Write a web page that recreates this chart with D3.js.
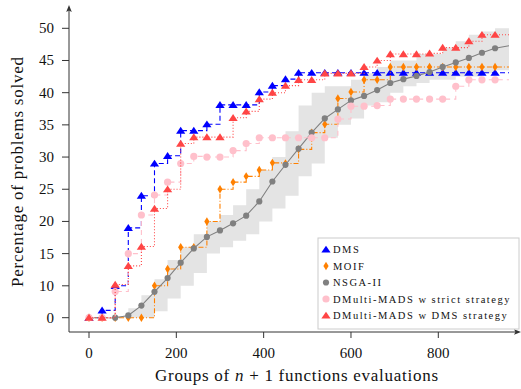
<!DOCTYPE html>
<html><head><meta charset="utf-8">
<script src="https://cdn.jsdelivr.net/npm/d3@7"></script>
<style>body{margin:0;background:#fff}</style>
</head><body>
<script>
// x positions of the samples (groups of n+1 evaluations)
const xValues = [0,30,60,90,120,150,180,210,240,270,300,330,360,390,420,450,480,510,540,570,600,630,660,690,720,750,780,810,840,870,900,930,962];
const dms   = [0,2.3,10,19,24,29,30.2,34.1,34.1,35.1,38.1,38.1,38.1,40.1,41.1,42.1,43.1,43.1,43.1,43.1,43.1,43.1,43.1,43.1,43.1,43.1,43.1,43.1,43.1,43.1,43.1,43.1,43.1];
const moif  = [0,0,0,0,0,10,12.6,16,16,20,25,26.1,27,28,29.1,29,31.2,33.8,35.1,39.1,40.1,42,42,44,44,44,44,44,44,44,44,44,44];
const nsga  = [0,0,0,0.7,3.8,8.1,11.2,13.6,15.8,17.6,18.6,19.7,20.9,23.1,26.2,28.8,31.3,33.8,36.0,37.4,38.8,39.5,40.4,41.5,42.1,42.6,43.2,44.0,44.7,45.4,46.2,46.9,47.3];
const nsgaLo= [0,0,0,0,0,2,6,10,12,15,16,17,18,20,22,24,27,29,33,35,36,38,38.5,40,41,41.5,42,42,42.5,42.5,43,43.5,43.5];
const nsgaHi= [0,0,0.5,3,7,11,14,16,18,20,21,22.5,25,28,30,34,38,40,41,41,42,43,44,45,45,46,46,47,48,49,49.5,50,51];
const strict= [0,0,8.2,15,21,24.1,26.1,29,30.1,30,30,31,32.1,33,33,33,33,33,33,35.9,37.9,37.9,38,39,39,39,39,39,41,42,42,42,42];
const dmsStr= [0,0,10.2,13.1,16.1,22,25,32.1,33.1,33.1,33.1,36.1,37.1,39,40,41.1,42,42,43,43,43,44,45,46,46,46,46.1,47,47,48,49,49,49];
const xTicks = [0,200,400,600,800];
const yTicks = [0,10,15,20,25,30,35,40,45,50];
const seriesNames = ["DMS","MOIF","NSGA-II","DMulti-MADS w strict strategy","DMulti-MADS w DMS strategy"];

const FONT="'Liberation Serif'";
const W=521,H=389;
const svg=d3.select("body").append("svg").attr("width",W).attr("height",H);
const x=d3.scaleLinear().domain([0,800]).range([89,438.3]);
const y=d3.scaleLinear().domain([0,10,50]).range([317.7,285.8,28.3]);
const axX=69, axY=332;

const clr={dms:"#0000ff",moif:"#ff8000",nsga:"#808080",strict:"#ffc0cb",dmsStr:"#ff4545"};
const mkTri=d3.symbol().type(d3.symbolTriangle).size(28);
const mkCirc=(r)=>`M${r},0A${r},${r},0,1,1,${-r},0A${r},${r},0,1,1,${r},0Z`;
const mkDiam="M0,-4.2L2.6,0L0,4.2L-2.6,0Z";

// band
const band=d3.area().x((d,i)=>x(xValues[i])).y0((d,i)=>y(nsgaLo[i])).y1((d,i)=>y(nsgaHi[i])).curve(d3.curveStepAfter);
svg.append("path").attr("d",band(xValues)).attr("fill","#e4e4e4");

function stepLine(vals,color,dash,curve){
  const ln=d3.line().x((d,i)=>x(xValues[i])).y(d=>y(d)).curve(curve||d3.curveStepAfter);
  svg.append("path").attr("d",ln(vals)).attr("fill","none").attr("stroke",color)
    .attr("stroke-width",1.1).attr("stroke-dasharray",dash||null);
}
function marks(vals,draw){
  const g=svg.append("g");
  vals.slice(0,32).forEach((v,i)=>draw(g.append("g").attr("transform",`translate(${x(xValues[i])},${y(v)})`)));
}
const drawTri=c=>g=>g.append("path").attr("d",mkTri()).attr("transform","translate(0,0.8) scale(1.15,1)").attr("fill",c);
const drawDiam=c=>g=>{g.append("path").attr("d",mkDiam).attr("fill",c);};
const drawCirc=(c,r)=>g=>g.append("path").attr("d",mkCirc(r)).attr("fill",c);

stepLine(dms,clr.dms,"5,3");
marks(dms,drawTri(clr.dms));
stepLine(moif,clr.moif,"5,2,1,2");
marks(moif,drawDiam(clr.moif));
stepLine(nsga,clr.nsga,null,d3.curveLinear);
marks(nsga,drawCirc(clr.nsga,3.1));
stepLine(strict,clr.strict,"5,4");
marks(strict,drawCirc(clr.strict,3.6));
stepLine(dmsStr,clr.dmsStr,"1,2");
marks(dmsStr,drawTri(clr.dmsStr));

// axes
const axisC="#333";
svg.append("line").attr("x1",axX).attr("x2",517).attr("y1",axY).attr("y2",axY).attr("stroke",axisC).attr("stroke-width",1);
svg.append("line").attr("x1",axX).attr("x2",axX).attr("y1",axY).attr("y2",9).attr("stroke",axisC).attr("stroke-width",1);
svg.append("path").attr("d",`M521,${axY}L514,${axY-2.8}L515.5,${axY}L514,${axY+2.8}Z`).attr("fill",axisC);
svg.append("path").attr("d",`M${axX},5L${axX-2.8},12L${axX},10.5L${axX+2.8},12Z`).attr("fill",axisC);
const txtC="#111";
function T(sel){return sel.style("font-family",FONT).attr("fill",txtC);}
xTicks.forEach(t=>{
  svg.append("line").attr("x1",x(t)).attr("x2",x(t)).attr("y1",axY).attr("y2",axY+6).attr("stroke",axisC);
  T(svg.append("text")).attr("x",x(t)).attr("y",357.5).attr("text-anchor","middle").attr("font-size",15).text(t);
});
yTicks.forEach(t=>{
  svg.append("line").attr("x1",axX-7).attr("x2",axX).attr("y1",y(t)).attr("y2",y(t)).attr("stroke",axisC);
  T(svg.append("text")).attr("x",54).attr("y",y(t)+5).attr("text-anchor","end").attr("font-size",15).text(t);
});
const xt=T(svg.append("text")).attr("x",296.5).attr("y",381).attr("text-anchor","middle").attr("font-size",17)
  .attr("textLength",283).attr("lengthAdjust","spacing");
xt.append("tspan").text("Groups of ");
xt.append("tspan").attr("font-style","italic").text("n");
xt.append("tspan").text(" + 1 functions evaluations");
T(svg.append("text")).attr("transform","translate(23,172) rotate(-90)").attr("text-anchor","middle").attr("font-size",17)
  .attr("textLength",230).attr("lengthAdjust","spacing").text("Percentage of problems solved");

// legend
const lg=svg.append("g");
lg.append("rect").attr("x",318).attr("y",238).attr("width",201).attr("height",91).attr("fill","#fff").attr("stroke","#cccccc");
const legDraw=[drawTri(clr.dms),drawDiam(clr.moif),drawCirc(clr.nsga,3.1),drawCirc(clr.strict,3.6),drawTri(clr.dmsStr)];
seriesNames.forEach((n,i)=>{
  const cy=249.5+i*16.5;
  legDraw[i](lg.append("g").attr("transform",`translate(326,${cy})`));
  T(lg.append("text")).attr("x",333).attr("y",cy+3.5).attr("font-size",10.5).attr("letter-spacing",1.5).text(n);
});
</script>
</body></html>
